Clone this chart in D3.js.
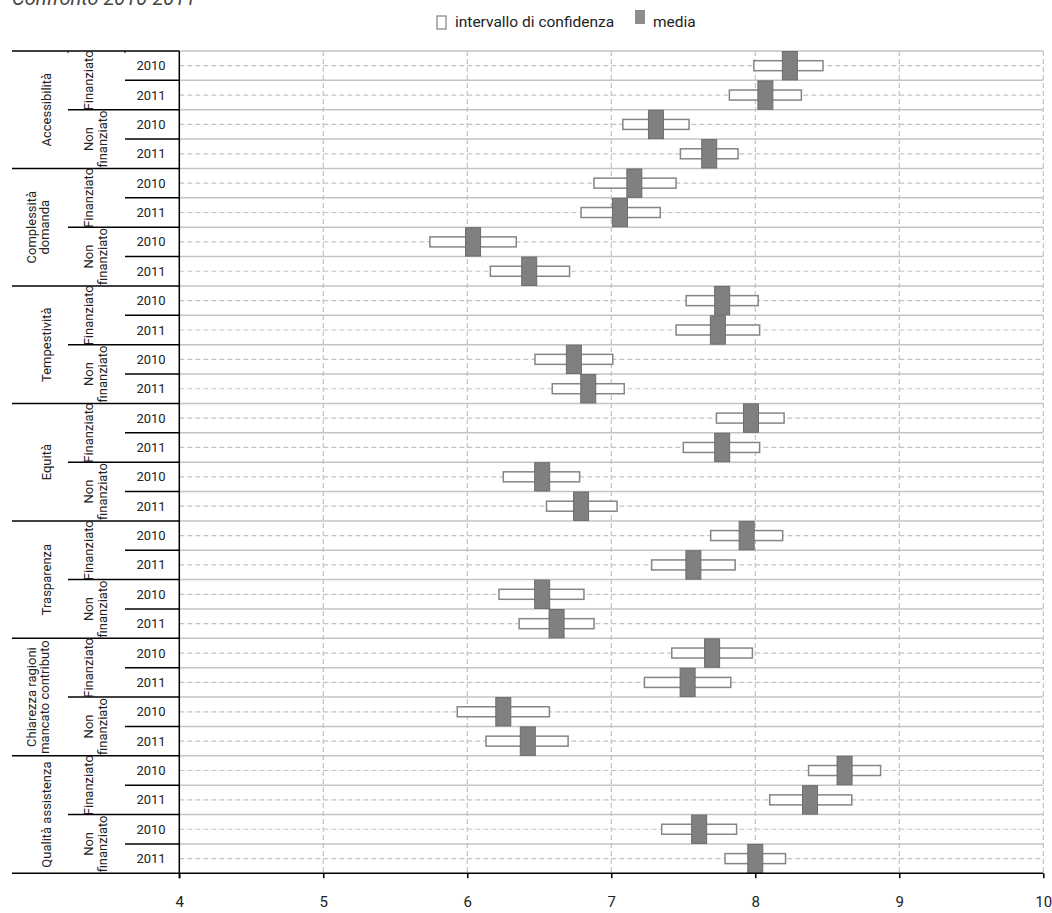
<!DOCTYPE html>
<html>
<head>
<meta charset="utf-8">
<script src="https://cdn.jsdelivr.net/npm/d3@7"></script>
<style>
  html, body { margin: 0; padding: 0; background: #fff; }
  svg { display: block; font-family: Roboto, "DejaVu Sans", sans-serif; }
</style>
</head>
<body>
<svg id="chart" width="1052" height="913"></svg>
<script>
// ---------------- data ----------------
const title = "Confronto 2010-2011";
const categories = [
  ["Accessibilità"],
  ["Complessità", "domanda"],
  ["Tempestività"],
  ["Equità"],
  ["Trasparenza"],
  ["Chiarezza ragioni", "mancato contributo"],
  ["Qualità assistenza"]
];
const groups = [["Finanziato"], ["Non", "finanziato"]];
const years = ["2010", "2011"];
const means  = [8.24, 8.07, 7.31, 7.68, 7.16, 7.06, 6.04, 6.43, 7.77, 7.74, 6.74, 6.84, 7.97, 7.77,
                6.52, 6.79, 7.94, 7.57, 6.52, 6.62, 7.70, 7.53, 6.25, 6.42, 8.62, 8.38, 7.61, 8.00];
const ciLow  = [7.99, 7.82, 7.08, 7.48, 6.88, 6.79, 5.74, 6.16, 7.52, 7.45, 6.47, 6.59, 7.73, 7.50,
                6.25, 6.55, 7.69, 7.28, 6.22, 6.36, 7.42, 7.23, 5.93, 6.13, 8.37, 8.10, 7.35, 7.79];
const ciHigh = [8.47, 8.32, 7.54, 7.88, 7.45, 7.34, 6.34, 6.71, 8.02, 8.03, 7.01, 7.09, 8.20, 8.03,
                6.78, 7.04, 8.19, 7.86, 6.81, 6.88, 7.98, 7.83, 6.57, 6.70, 8.87, 8.67, 7.87, 8.21];
const xTicks = [4, 5, 6, 7, 8, 9, 10];
const legendLabels = ["intervallo di confidenza", "media"];

// ---------------- layout ----------------
const svg = d3.select("#chart");
const plotLeft = 179.3, plotRight = 1043.3, plotTop = 51, plotBottom = 873.3;
const colCat = 12, colGroup = 68, colYear = 125;

const rows = [];
categories.forEach((c, ci) => groups.forEach((g, gi) => years.forEach((y, yi) => {
  const i = rows.length;
  rows.push({ i, ci, gi, yi, year: y, mean: means[i], lo: ciLow[i], hi: ciHigh[i] });
})));

const x = d3.scaleLinear().domain([4, 10]).range([plotLeft, plotRight]);
const y = d3.scaleBand().domain(d3.range(rows.length)).range([plotTop, plotBottom]).padding(0);
const bw = y.bandwidth();

const grid = "#c3c3c3";

// title (cut at top edge, as in the reference)
svg.append("text").attr("x", 12).attr("y", 5)
  .attr("font-size", 20).attr("font-style", "italic").attr("fill", "#444")
  .text(title);

// legend
const lg = svg.append("g");
lg.append("rect").attr("x", 437).attr("y", 16).attr("width", 9).attr("height", 13)
  .attr("fill", "#fff").attr("stroke", "#808080").attr("stroke-width", 1.2);
lg.append("text").attr("x", 455).attr("y", 27).attr("font-size", 15.5).attr("fill", "#222")
  .text(legendLabels[0]);
lg.append("rect").attr("x", 635).attr("y", 10).attr("width", 10).attr("height", 14)
  .attr("fill", "#8c8c8c");
lg.append("text").attr("x", 653).attr("y", 27).attr("font-size", 15.5).attr("fill", "#222")
  .text(legendLabels[1]);

// horizontal solid gridlines (row boundaries)
const gridG = svg.append("g");
gridG.selectAll("line.hs").data(d3.range(rows.length))
  .join("line").attr("class", "hs")
  .attr("x1", plotLeft).attr("x2", plotRight)
  .attr("y1", i => y(i)).attr("y2", i => y(i))
  .attr("stroke", grid).attr("stroke-width", 1.5);

// horizontal dashed gridlines (row centers)
gridG.selectAll("line.hd").data(rows).join("line").attr("class", "hd")
  .attr("x1", plotLeft).attr("x2", plotRight)
  .attr("y1", d => y(d.i) + bw / 2).attr("y2", d => y(d.i) + bw / 2)
  .attr("stroke", grid).attr("stroke-width", 1.2).attr("stroke-dasharray", "5,3");

// vertical dashed gridlines
gridG.selectAll("line.vd").data(xTicks.filter(t => t > 4)).join("line").attr("class", "vd")
  .attr("x1", d => x(d)).attr("x2", d => x(d))
  .attr("y1", plotTop).attr("y2", plotBottom)
  .attr("stroke", grid).attr("stroke-width", 1.2).attr("stroke-dasharray", "5,3");

// CI boxes
const ciH = 10;
svg.append("g").selectAll("rect").data(rows).join("rect")
  .attr("x", d => x(d.lo)).attr("width", d => x(d.hi) - x(d.lo))
  .attr("y", d => y(d.i) + bw / 2 - ciH / 2).attr("height", ciH)
  .attr("fill", "#fff").attr("stroke", "#858585").attr("stroke-width", 1.5);

// mean markers
const mW = 15;
svg.append("g").selectAll("rect").data(rows).join("rect")
  .attr("x", d => x(d.mean) - mW / 2).attr("width", mW)
  .attr("y", d => y(d.i) + 0.5).attr("height", bw - 1)
  .attr("fill", "#808080").attr("stroke", "#6c6c6c").attr("stroke-width", 1);

// x axis
const xAxis = svg.append("g").attr("transform", `translate(0,${plotBottom})`)
  .call(d3.axisBottom(x).tickValues(xTicks).tickSize(5).tickPadding(18).tickFormat(d3.format("d")));
xAxis.select(".domain").remove();
xAxis.attr("font-size", 15).attr("font-family", "Roboto, sans-serif");
xAxis.selectAll(".tick line").attr("stroke", "#000").attr("stroke-width", 1.5);
xAxis.selectAll(".tick text").attr("fill", "#222").attr("font-size", 15);
svg.append("line").attr("x1", colCat).attr("x2", plotRight).attr("y1", plotBottom).attr("y2", plotBottom)
  .attr("stroke", "#000").attr("stroke-width", 1.5);

// left axis line
svg.append("line").attr("x1", plotLeft).attr("x2", plotLeft).attr("y1", plotTop).attr("y2", plotBottom + 5)
  .attr("stroke", "#000").attr("stroke-width", 1.5);

// hierarchical separators
const sep = svg.append("g").attr("stroke", "#000").attr("stroke-width", 1.5);
sep.append("line").attr("x1", colCat).attr("x2", plotLeft).attr("y1", plotTop).attr("y2", plotTop);
rows.forEach(r => {
  if (r.i === 0) return;
  let x1;
  if (r.gi === 0 && r.yi === 0) x1 = colCat;
  else if (r.yi === 0) x1 = colGroup;
  else x1 = colYear;
  sep.append("line").attr("x1", x1).attr("x2", plotLeft).attr("y1", y(r.i)).attr("y2", y(r.i));
});
[colGroup, colYear].forEach(cx => sep.append("line").attr("x1", cx).attr("x2", cx)
  .attr("y1", plotTop).attr("y2", plotTop + 2).attr("stroke-width", 1));

// year labels
svg.append("g").selectAll("text").data(rows).join("text")
  .attr("x", 151).attr("y", d => y(d.i) + bw / 2).attr("dy", "0.35em")
  .attr("text-anchor", "middle").attr("font-size", 13).attr("fill", "#222")
  .text(d => d.year);

// group labels (rotated)
const gLab = svg.append("g");
categories.forEach((c, ci) => groups.forEach((g, gi) => {
  const i0 = ci * 4 + gi * 2;
  const cy = y(i0) + bw;
  const xs = g.length === 1 ? [88] : [88, 102];
  g.forEach((line, li) => {
    gLab.append("text")
      .attr("transform", `translate(${xs[li]},${cy}) rotate(-90)`)
      .attr("dy", "0.35em").attr("text-anchor", "middle")
      .attr("font-size", 13).attr("fill", "#222").text(line);
  });
}));

// category labels (rotated)
const cLab = svg.append("g");
categories.forEach((c, ci) => {
  const cy = y(ci * 4) + 2 * bw;
  const xs = c.length === 1 ? [46] : [31, 44];
  c.forEach((line, li) => {
    cLab.append("text")
      .attr("transform", `translate(${xs[li]},${cy}) rotate(-90)`)
      .attr("dy", "0.35em").attr("text-anchor", "middle")
      .attr("font-size", 13).attr("fill", "#222").text(line);
  });
});
</script>
</body>
</html>
